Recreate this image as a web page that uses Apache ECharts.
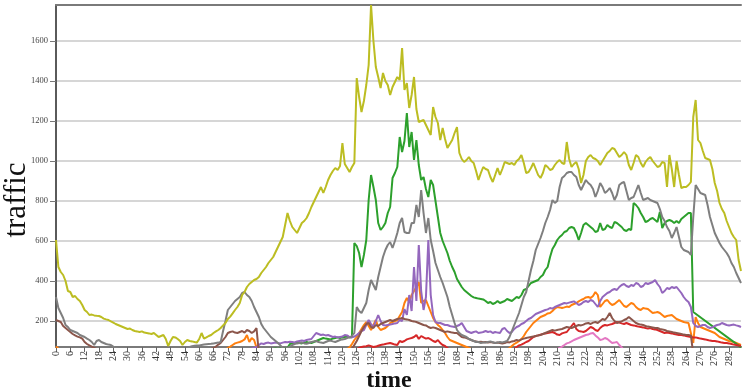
<!DOCTYPE html>
<html>
<head>
<meta charset="utf-8">
<script src="https://cdn.jsdelivr.net/npm/echarts@6/dist/echarts.min.js"></script>
<style>
  html, body { margin: 0; padding: 0; background: #ffffff; }
  #chart { width: 743px; height: 391px; }
</style>
</head>
<body>
<div id="chart"></div>
<script>
// time slots 0..287 (5-minute steps over a day)
const timeSteps = [];
for (let t = 0; t < 288; t++) timeSteps.push(String(t));

// y grid values
const trafficTicks = [200, 400, 600, 800, 1000, 1200, 1400, 1600];

const oliveSeries = [
  605,470,445,430,400,350,345,320,325,310,300,280,
  255,245,230,232,228,226,225,220,212,208,205,198,
  192,185,180,175,170,165,160,162,155,150,148,145,
  148,142,140,138,135,140,130,120,125,130,110,75,
  100,120,118,110,100,80,95,105,100,98,95,92,
  110,140,112,118,125,130,140,148,155,165,178,190,
  210,222,238,255,270,290,330,345,370,385,395,405,
  410,420,440,455,470,490,505,520,545,570,595,620,
  680,740,700,670,655,640,665,690,700,715,740,770,
  795,820,845,870,840,870,905,930,950,965,955,975,
  1090,985,965,945,970,990,1415,1320,1245,1300,1380,1480,
  1780,1600,1470,1420,1365,1440,1400,1380,1330,1370,1395,1420,
  1405,1565,1355,1390,1265,1330,1420,1260,1195,1200,1205,1180,
  1155,1130,1270,1220,1190,1105,1165,1110,1065,1085,1105,1140,
  1170,1040,1010,995,1005,1020,1000,990,950,905,940,970,
  960,955,920,895,930,965,930,960,995,990,985,990,
  980,1000,1010,1030,990,940,945,965,990,960,930,915,
  940,980,970,955,960,980,995,1005,990,985,1095,1010,
  970,985,995,960,890,930,1000,1020,1030,1015,1010,1000,
  980,1000,1020,1040,1050,1065,1060,1040,1020,1030,1045,1030,
  980,955,990,1030,1020,990,970,995,1010,1020,1000,985,
  970,975,995,990,870,1030,960,870,1000,930,865,870,
  870,880,895,1220,1305,1105,1090,1050,1015,1010,1005,960,
  890,850,790,760,740,700,670,640,620,605,505,450
];

const greenSeries = [
  52,48,47,44,45,43,41,42,40,41,39,40,
  38,39,37,38,36,37,38,36,37,35,36,37,
  36,35,36,34,35,36,34,35,36,35,34,35,
  35,34,36,35,34,35,33,35,34,36,35,34,
  35,36,34,35,37,36,35,37,36,38,37,39,
  38,40,39,41,40,42,41,43,44,43,45,46,
  47,46,48,50,49,51,52,51,53,55,54,56,
  55,57,58,56,59,60,58,61,62,60,63,64,
  62,66,85,88,90,92,90,88,92,95,92,90,
  95,100,105,110,115,112,110,108,112,115,118,115,
  118,120,122,118,120,590,575,540,470,530,605,805,
  930,870,805,690,655,670,690,740,770,915,940,970,
  1120,1045,1100,1240,1070,1145,1005,1105,980,905,920,860,
  820,905,880,800,720,640,600,570,540,500,470,445,
  410,390,370,355,345,335,325,318,315,312,310,308,
  300,290,295,285,290,300,290,295,300,310,305,300,
  310,320,315,330,355,360,375,390,395,400,405,420,
  430,455,470,520,560,580,605,620,630,645,650,665,
  670,665,640,605,640,680,690,680,670,660,645,650,
  690,655,660,680,670,665,695,690,680,670,655,650,
  660,655,790,780,765,740,720,695,700,710,715,705,
  695,745,665,690,700,705,700,690,700,690,710,720,
  730,740,740,245,null,null,null,null,null,null,null,null,
  null,null,null,null,null,null,null,null,null,null,null,68
];

const graySeries = [
  320,265,240,215,180,170,155,150,145,140,130,125,
  120,112,105,95,80,100,105,95,90,85,82,80,
  72,66,62,58,56,53,51,50,49,48,47,46,
  46,45,45,44,44,43,43,42,42,43,42,42,
  42,43,44,45,46,48,55,62,70,74,76,78,
  78,80,82,84,85,86,88,90,92,95,150,200,
  255,270,285,300,310,320,340,345,330,320,300,270,
  245,220,185,165,150,135,120,110,100,90,78,65,
  62,66,72,80,85,88,90,92,88,86,90,95,
  98,100,95,92,90,95,100,102,98,95,100,105,
  108,110,115,118,125,140,270,250,240,265,290,355,
  405,380,355,420,470,520,555,580,595,565,600,640,
  690,715,645,640,640,690,690,780,720,855,740,640,
  715,605,550,490,455,420,390,355,320,270,230,190,
  155,140,130,125,120,110,105,100,95,95,90,92,
  92,95,98,94,90,92,95,93,96,100,120,150,
  180,210,240,280,320,345,400,455,500,555,585,615,
  650,690,720,755,805,790,800,870,915,925,940,945,
  945,930,920,880,855,880,905,890,880,860,820,850,
  890,870,840,850,865,840,805,830,880,890,895,850,
  805,815,820,850,880,840,805,810,815,805,800,795,
  790,760,720,700,670,650,615,640,670,620,570,555,
  550,545,530,720,880,860,840,835,830,780,720,680,
  640,615,590,570,555,540,520,490,470,440,415,390
];

const purpleSeries = [
  34,33,35,32,34,33,31,33,32,34,33,32,
  33,31,32,34,33,32,31,33,34,32,33,31,
  32,33,31,32,34,33,32,31,33,32,34,33,
  31,32,33,34,32,31,33,32,34,33,31,32,
  33,32,34,33,31,32,34,33,32,31,33,34,
  34,35,33,36,35,34,37,36,38,37,39,38,
  40,42,44,46,48,50,52,55,58,60,63,66,
  70,80,88,85,90,92,88,90,92,90,88,92,
  95,94,96,95,93,98,100,102,100,105,108,110,
  125,140,135,130,132,128,130,125,120,122,118,120,
  122,130,128,120,118,122,130,140,150,155,180,205,
  185,170,200,230,200,180,178,180,182,185,188,190,
  205,200,260,230,330,250,470,300,580,350,255,320,
  605,330,230,195,190,190,185,180,180,175,172,170,
  175,180,190,170,150,145,140,145,148,140,142,145,
  150,145,148,140,145,142,140,160,165,150,140,145,
  160,170,175,185,190,200,210,215,225,235,240,245,
  250,255,258,265,262,270,275,280,285,290,288,292,
  295,298,290,280,285,295,300,295,305,300,285,270,
  300,320,330,340,345,355,360,355,370,380,385,375,
  370,380,375,390,385,370,375,390,385,390,395,405,
  385,370,340,350,365,360,370,365,370,355,340,320,
  305,295,270,190,175,170,175,180,180,170,165,168,
  175,180,182,190,185,180,178,180,182,178,175,170
];

const orangeSeries = [
  72,62,55,50,46,44,42,41,40,39,38,38,
  37,36,36,35,35,34,35,34,33,34,33,33,
  33,32,33,32,31,32,32,31,32,31,31,32,
  31,32,31,30,31,30,31,30,30,31,30,31,
  30,31,30,31,32,31,32,33,32,34,33,35,
  35,36,37,36,38,39,40,42,44,47,50,56,
  65,72,80,88,92,95,100,108,130,95,115,105,
  68,50,45,42,40,40,38,38,37,37,36,36,
  36,35,36,35,34,35,34,35,36,35,34,35,
  36,35,37,36,38,37,39,40,41,43,44,47,
  50,55,60,68,85,105,120,140,160,180,195,175,
  155,180,205,170,155,160,165,175,190,195,200,205,
  225,245,290,315,295,330,350,370,395,290,300,305,
  275,245,215,195,180,170,155,140,120,105,100,95,
  90,85,80,75,70,65,60,58,55,52,50,50,
  48,46,45,45,46,48,50,52,55,58,65,75,
  85,92,100,110,125,145,160,175,190,200,210,220,
  225,230,238,240,250,262,270,268,265,268,272,270,
  280,285,290,298,305,310,318,320,315,325,345,330,
  270,285,300,305,290,280,285,295,305,290,275,270,
  280,290,285,270,260,255,265,262,260,250,240,242,
  245,240,230,220,225,228,230,220,210,205,200,195,
  192,190,140,90,220,190,170,165,160,155,150,145,
  140,130,120,115,110,105,100,97,95,90,85,80
];

const brownSeries = [
  205,200,195,175,165,155,145,135,128,122,118,112,
  95,85,78,72,66,60,55,52,50,48,46,45,
  44,43,42,42,41,40,40,39,39,38,38,37,
  37,37,36,36,36,35,35,35,35,34,35,34,
  35,36,35,37,36,38,37,39,38,40,41,43,
  45,48,50,52,55,60,65,72,82,90,105,120,
  140,145,148,142,140,145,150,142,155,150,140,148,
  165,40,38,37,36,36,35,35,34,35,34,35,
  35,34,35,36,35,34,35,36,35,36,35,36,
  36,35,37,36,37,36,38,37,38,37,38,39,
  40,42,45,50,60,80,100,125,150,170,185,190,
  170,165,180,175,185,190,195,200,205,200,205,210,
  212,215,210,208,205,200,198,195,190,185,180,178,
  170,165,168,165,160,155,150,145,148,145,142,140,
  140,130,120,118,115,110,105,100,98,95,96,94,
  95,93,95,92,90,92,90,88,90,95,93,98,
  100,105,102,108,112,115,118,120,122,125,128,130,
  135,140,145,150,155,152,155,158,160,165,170,168,
  165,170,175,180,178,182,188,190,185,192,195,190,
  200,210,205,220,240,215,200,190,195,198,205,210,
  220,210,200,190,185,182,180,175,172,170,168,165,
  165,160,158,155,150,148,145,142,140,138,135,132,
  130,130,128,35,34,33,33,32,32,31,31,30,
  30,30,29,29,29,28,28,28,27,27,27,26
];

const redSeries = [
  25,26,25,27,26,25,26,27,25,26,25,26,
  26,25,27,26,25,26,27,26,25,27,26,25,
  25,26,25,26,27,25,26,25,26,27,26,25,
  26,25,26,27,25,26,25,26,25,26,27,26,
  25,26,27,25,26,25,26,27,26,25,26,25,
  26,25,26,25,27,26,25,26,27,26,25,26,
  25,26,27,26,25,26,25,27,26,25,26,27,
  26,25,26,25,26,27,26,25,26,27,25,26,
  25,26,27,25,26,25,27,26,25,26,27,26,
  27,26,28,27,26,28,27,29,28,27,29,28,
  30,35,40,45,50,55,60,65,70,72,74,78,
  74,70,72,76,80,82,85,88,90,86,82,80,
  100,95,100,108,112,115,120,130,110,125,118,112,
  115,108,100,95,105,90,80,75,65,55,50,45,
  42,40,38,38,36,36,35,35,36,37,38,39,
  40,40,42,42,44,45,46,48,50,52,55,58,
  62,70,78,82,88,95,100,110,120,125,128,132,
  135,138,140,142,145,140,132,130,138,142,145,160,
  175,190,160,150,148,145,150,160,170,165,155,150,
  165,175,180,178,182,185,190,195,192,188,185,190,
  185,180,178,175,172,170,168,165,162,165,160,158,
  155,150,145,140,142,140,138,135,132,130,130,128,
  125,122,120,118,118,115,112,110,108,105,102,100,
  100,98,95,92,90,90,88,85,82,80,78,75
];

const pinkSeries = [
  30,31,30,32,31,30,31,32,30,31,30,32,
  31,30,32,31,30,31,30,32,31,30,31,30,
  32,31,30,31,30,32,31,30,31,32,30,31,
  30,31,32,30,31,30,31,32,31,30,31,30,
  31,30,31,32,30,31,30,31,32,31,30,31,
  30,32,31,30,31,30,32,31,30,31,32,30,
  31,30,31,32,31,30,31,30,32,31,30,31,
  30,31,32,30,31,30,31,32,31,30,31,30,
  31,30,31,32,30,31,30,31,32,31,30,31,
  30,32,31,30,31,30,32,31,30,31,32,30,
  31,30,31,32,31,30,31,30,32,31,30,31,
  30,31,32,30,31,30,31,32,31,30,31,30,
  31,30,31,32,30,31,30,31,32,31,30,31,
  30,32,31,30,31,30,32,31,30,31,32,30,
  31,30,31,32,31,30,31,30,32,31,30,31,
  30,31,32,30,31,30,31,32,31,30,31,30,
  30,31,32,32,33,34,34,35,36,37,38,39,
  40,42,45,48,50,55,60,65,72,80,88,92,
  98,105,110,115,120,125,130,132,138,140,128,118,
  105,108,115,110,100,90,92,95,80,68,55,50,
  48,46,45,44,42,41,40,39,38,37,36,36,
  35,35,34,35,34,34,35,34,33,34,33,33,
  33,32,33,32,33,32,32,31,32,31,32,31,
  31,31,30,31,30,30,31,30,30,29,30,29
];

const serif = "'Liberation Serif', 'DejaVu Serif', 'Times New Roman', serif";

const lineDefs = [
  { name: 'orange', color: '#ff7f0e', data: orangeSeries },
  { name: 'green',  color: '#2ca02c', data: greenSeries },
  { name: 'red',    color: '#d62728', data: redSeries },
  { name: 'purple', color: '#9467bd', data: purpleSeries },
  { name: 'brown',  color: '#8c564b', data: brownSeries },
  { name: 'pink',   color: '#e377c2', data: pinkSeries },
  { name: 'gray',   color: '#7f7f7f', data: graySeries },
  { name: 'olive',  color: '#bcbd22', data: oliveSeries }
];

const chart = echarts.init(document.getElementById('chart'), null, { renderer: 'canvas' });

chart.setOption({
  animation: false,
  backgroundColor: '#ffffff',
  grid: { left: 56, right: 2, top: 5, bottom: 44, containLabel: false },
  xAxis: [
    {
      type: 'category',
      data: timeSteps,
      boundaryGap: false,
      axisLine: { lineStyle: { color: '#7a7a7a', width: 2 } },
      axisTick: { interval: 5, length: 5, lineStyle: { color: '#666', width: 1 } },
      axisLabel: {
        interval: 5, rotate: 90, margin: 4,
        fontFamily: serif, fontSize: 10, color: '#333'
      },
      splitLine: { show: false }
    },
    {
      type: 'category',
      data: timeSteps,
      boundaryGap: false,
      position: 'top',
      axisLine: { lineStyle: { color: '#7a7a7a', width: 2 } },
      axisTick: { show: false },
      axisLabel: { show: false },
      splitLine: { show: false }
    }
  ],
  yAxis: {
    type: 'value',
    min: 70,
    max: 1780,
    splitNumber: 9,
    minInterval: 200,
    maxInterval: 200,
    axisLine: { show: true, lineStyle: { color: '#5a5a5a', width: 2 } },
    axisTick: { show: true, length: 6, lineStyle: { color: '#777', width: 1 } },
    axisLabel: {
      showMinLabel: false, showMaxLabel: false, margin: 8,
      fontFamily: serif, fontSize: 8.5, color: '#444',
      formatter: v => (trafficTicks.indexOf(v) >= 0 ? String(v) : '')
    },
    splitLine: { show: true, lineStyle: { color: '#c8c8c8', width: 1.5 } }
  },
  graphic: [
    {
      type: 'text',
      x: 17, y: 200, rotation: Math.PI / 2,
      style: {
        text: 'traffic', fontFamily: serif, fontSize: 31, fill: '#111',
        textAlign: 'center', textVerticalAlign: 'middle'
      }
    },
    {
      type: 'text',
      x: 389, y: 381,
      style: {
        text: 'time', fontFamily: serif, fontSize: 24, fontWeight: 'bold', fill: '#111',
        textAlign: 'center', textVerticalAlign: 'middle'
      }
    }
  ],
  series: lineDefs.map(d => ({
    name: d.name,
    type: 'line',
    data: d.data,
    symbol: 'none',
    smooth: false,
    clip: true,
    connectNulls: true,
    lineStyle: { color: d.color, width: 2 },
    itemStyle: { color: d.color },
    emphasis: { disabled: true }
  }))
});
</script>
</body>
</html>
